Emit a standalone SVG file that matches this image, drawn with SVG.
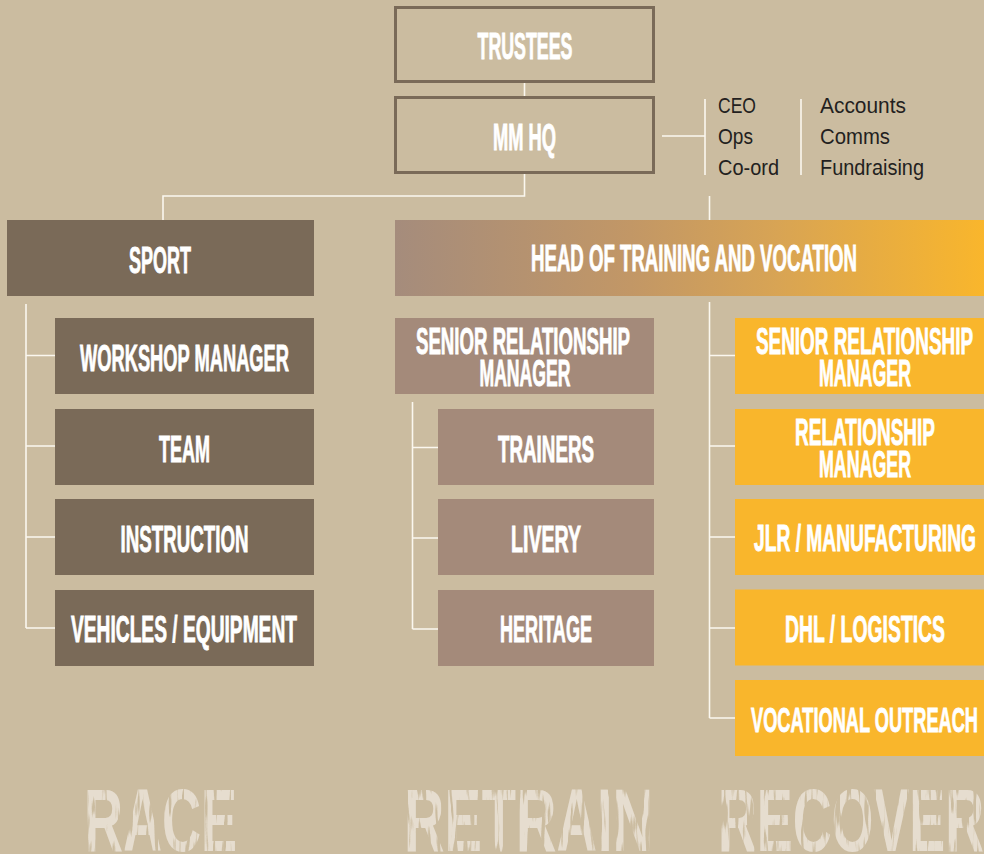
<svg xmlns="http://www.w3.org/2000/svg" width="984" height="854" viewBox="0 0 984 854">
<defs>
<style>
.sport{fill:#7a6a58}
.mid{fill:#a48a7a}
.org{fill:#f9b62c}
.outline{fill:none;stroke:#7a6a58;stroke-width:3}
.lbl{font-family:"Liberation Sans",Arial,sans-serif;font-weight:bold;font-size:36px;fill:#fff;stroke:#fff;stroke-width:0.9;text-anchor:middle}
.side{font-family:"Liberation Sans",Arial,sans-serif;font-size:21.5px;fill:#231f20}
.conn{fill:none;stroke:#fbf7ef;stroke-width:1.6}
.big{font-family:"Liberation Sans",Arial,sans-serif;font-weight:bold;font-size:89px;fill:#e6ddcf}
</style>
<linearGradient id="headGrad" x1="0" y1="0" x2="1" y2="0">
<stop offset="0" stop-color="#a58c7c"/>
<stop offset="0.4" stop-color="#c29766"/>
<stop offset="0.65" stop-color="#d8a454"/>
<stop offset="1" stop-color="#f9b62c"/>
</linearGradient>
<filter id="rough" x="0" y="0" width="100%" height="100%">
<feTurbulence type="fractalNoise" baseFrequency="0.22 0.025" numOctaves="2" seed="7" result="n"/>
<feColorMatrix in="n" type="matrix" values="0 0 0 0 0  0 0 0 0 0  0 0 0 0 0  -8 0 0 0 5.3" result="m"/>
<feComposite in="SourceGraphic" in2="m" operator="in"/>
</filter>
</defs>
<rect x="0" y="0" width="984" height="854" fill="#cbbca0"/>

<g id="connectors">
<path class="conn" d="M524.5 82.5V97.5"/>
<path class="conn" d="M524.5 173V196H163V220M709.5 196V220"/>
<path class="conn" d="M662 136H705M705 99V175M801 99V175"/>
<path class="conn" d="M26 304V628M26 355.5H55M26 446H55M26 537H55M26 628H55"/>
<path class="conn" d="M412.5 402V629M412.5 447.5H438M412.5 538H438M412.5 629H438"/>
<path class="conn" d="M709.5 302V718M709.5 355.5H735M709.5 446H735M709.5 537H735M709.5 628H735M709.5 718H735"/>
</g>

<g id="trustees">
<rect class="outline" x="395.5" y="7.5" width="258" height="74"/>
<text class="lbl" transform="translate(525 59) scale(0.55 1)" x="0" y="0" textLength="172.7" lengthAdjust="spacingAndGlyphs">TRUSTEES</text>
</g>
<g id="mmhq">
<rect class="outline" x="395.5" y="97.5" width="258" height="75"/>
<text class="lbl" transform="translate(524.5 150) scale(0.55 1)" x="0" y="0" textLength="114.5" lengthAdjust="spacingAndGlyphs">MM HQ</text>
</g>
<g id="hq-roles">
<text class="side" x="718" y="112.5" textLength="38" lengthAdjust="spacingAndGlyphs">CEO</text>
<text class="side" x="718" y="144" textLength="35" lengthAdjust="spacingAndGlyphs">Ops</text>
<text class="side" x="718" y="175" textLength="61" lengthAdjust="spacingAndGlyphs">Co-ord</text>
<text class="side" x="820" y="112.5" textLength="86" lengthAdjust="spacingAndGlyphs">Accounts</text>
<text class="side" x="820" y="144" textLength="70" lengthAdjust="spacingAndGlyphs">Comms</text>
<text class="side" x="820" y="175" textLength="104" lengthAdjust="spacingAndGlyphs">Fundraising</text>
</g>

<g id="sport">
<rect class="sport" x="7" y="220" width="307" height="76"/>
<text class="lbl" transform="translate(160 272.5) scale(0.55 1)" x="0" y="0" textLength="112.7" lengthAdjust="spacingAndGlyphs">SPORT</text>
</g>
<g id="workshop-manager">
<rect class="sport" x="55" y="318" width="259" height="76"/>
<text class="lbl" transform="translate(184.5 371) scale(0.55 1)" x="0" y="0" textLength="380" lengthAdjust="spacingAndGlyphs">WORKSHOP MANAGER</text>
</g>
<g id="team">
<rect class="sport" x="55" y="409" width="259" height="76"/>
<text class="lbl" transform="translate(184.5 462) scale(0.55 1)" x="0" y="0" textLength="92.7" lengthAdjust="spacingAndGlyphs">TEAM</text>
</g>
<g id="instruction">
<rect class="sport" x="55" y="499" width="259" height="76"/>
<text class="lbl" transform="translate(184.5 552) scale(0.55 1)" x="0" y="0" textLength="232.7" lengthAdjust="spacingAndGlyphs">INSTRUCTION</text>
</g>
<g id="vehicles">
<rect class="sport" x="55" y="590" width="259" height="76"/>
<text class="lbl" transform="translate(184 642) scale(0.55 1)" x="0" y="0" textLength="410.9" lengthAdjust="spacingAndGlyphs">VEHICLES / EQUIPMENT</text>
</g>

<g id="head-training">
<rect fill="url(#headGrad)" x="395" y="220" width="589" height="76"/>
<text class="lbl" transform="translate(694 271) scale(0.55 1)" x="0" y="0" textLength="592.7" lengthAdjust="spacingAndGlyphs">HEAD OF TRAINING AND VOCATION</text>
</g>

<g id="srm-mid">
<rect class="mid" x="395" y="318" width="259" height="76"/>
<text class="lbl" transform="translate(523 354) scale(0.55 1)"><tspan x="0" y="0" textLength="389.1" lengthAdjust="spacingAndGlyphs">SENIOR RELATIONSHIP</tspan><tspan x="3.6" y="32" textLength="165.5" lengthAdjust="spacingAndGlyphs">MANAGER</tspan></text>
</g>
<g id="trainers">
<rect class="mid" x="438" y="409" width="216" height="76"/>
<text class="lbl" transform="translate(546 462) scale(0.55 1)" x="0" y="0" textLength="174.5" lengthAdjust="spacingAndGlyphs">TRAINERS</text>
</g>
<g id="livery">
<rect class="mid" x="438" y="499" width="216" height="76"/>
<text class="lbl" transform="translate(546 552) scale(0.55 1)" x="0" y="0" textLength="127.3" lengthAdjust="spacingAndGlyphs">LIVERY</text>
</g>
<g id="heritage">
<rect class="mid" x="438" y="590" width="216" height="76"/>
<text class="lbl" transform="translate(546 642) scale(0.55 1)" x="0" y="0" textLength="167.3" lengthAdjust="spacingAndGlyphs">HERITAGE</text>
</g>

<g id="srm-right">
<rect class="org" x="735" y="318" width="249" height="76"/>
<text class="lbl" transform="translate(864.5 354) scale(0.55 1)"><tspan x="0" y="0" textLength="394.5" lengthAdjust="spacingAndGlyphs">SENIOR RELATIONSHIP</tspan><tspan x="0.9" y="32" textLength="167.3" lengthAdjust="spacingAndGlyphs">MANAGER</tspan></text>
</g>
<g id="relationship-manager">
<rect class="org" x="735" y="409" width="249" height="76"/>
<text class="lbl" transform="translate(865 445) scale(0.55 1)"><tspan x="0" y="0" textLength="254.5" lengthAdjust="spacingAndGlyphs">RELATIONSHIP</tspan><tspan x="0" y="32" textLength="167.3" lengthAdjust="spacingAndGlyphs">MANAGER</tspan></text>
</g>
<g id="jlr">
<rect class="org" x="735" y="499" width="249" height="76"/>
<text class="lbl" transform="translate(865 551) scale(0.55 1)" x="0" y="0" textLength="403.6" lengthAdjust="spacingAndGlyphs">JLR / MANUFACTURING</text>
</g>
<g id="dhl">
<rect class="org" x="735" y="589.5" width="249" height="76"/>
<text class="lbl" transform="translate(865 642) scale(0.55 1)" x="0" y="0" textLength="290.9" lengthAdjust="spacingAndGlyphs">DHL / LOGISTICS</text>
</g>
<g id="vocational">
<rect class="org" x="735" y="680" width="249" height="76"/>
<text class="lbl" transform="translate(864.5 732) scale(0.5 1)" x="0" y="0" textLength="454" lengthAdjust="spacingAndGlyphs">VOCATIONAL OUTREACH</text>
</g>

<g id="footer" filter="url(#rough)">
<text class="big" transform="translate(84 851) scale(0.6 1)" x="0" y="0" textLength="255" lengthAdjust="spacingAndGlyphs">RACE</text>
<text class="big" transform="translate(404 851) scale(0.6 1)" x="0" y="0" textLength="415" lengthAdjust="spacingAndGlyphs">RETRAIN</text>
<text class="big" transform="translate(718 851) scale(0.6 1)" x="0" y="0" textLength="443.3" lengthAdjust="spacingAndGlyphs">RECOVER</text>
</g>
</svg>
